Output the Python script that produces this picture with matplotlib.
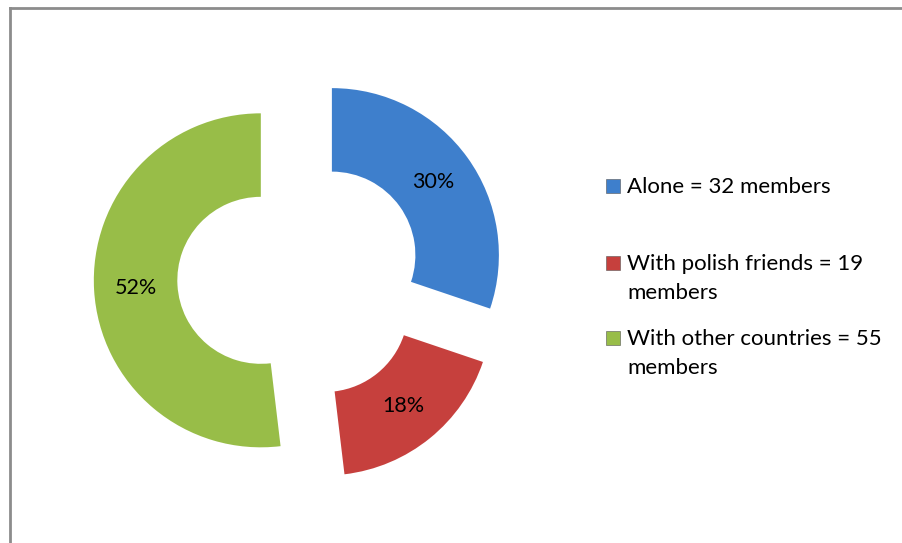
import matplotlib
matplotlib.use("Agg")
import matplotlib.pyplot as plt
from matplotlib.patches import Rectangle
from matplotlib.lines import Line2D

plt.rcParams['font.family'] = ['Lato', 'DejaVu Sans']

# Data
labels = ['Alone = 32 members', 'With polish friends = 19\nmembers', 'With other countries = 55\nmembers']
members = [32, 19, 55]
colors = ['#3e7fcc', '#c6403d', '#98bd48']

W, H = 903, 543
fig = plt.figure(figsize=(W / 100, H / 100), dpi=100)
ax = fig.add_axes([0, 0, 1, 1])

# donut centre and radius in pixels, axes in units of the radius
cx, cy, R = 300, 265, 167

wedges, _, pcts = ax.pie(members, colors=colors, startangle=90, counterclock=False,
                         radius=1.0, explode=[0.235] * 3, autopct='%1.0f%%',
                         pctdistance=0.75, frame=True,
                         wedgeprops=dict(width=0.5, linewidth=0),
                         textprops=dict(fontsize=15.5, color='black'))
ax.set_xlim(-cx / R, (W - cx) / R)
ax.set_ylim(-cy / R, (H - cy) / R)
ax.set_aspect('auto')
ax.axis('off')

# legend: marker square plus one text per line, baselines in pixels from top
leg_base = [193, 270, 345]
line_gap = 29
for lab, col, yb in zip(labels, colors, leg_base):
    fig.patches.append(Rectangle((606 / W, 1 - (yb + 0) / H), 14 / W, 14 / H,
                                 transform=fig.transFigure, facecolor=col,
                                 edgecolor='#555555', linewidth=0.4))
    for i, line in enumerate(lab.split('\n')):
        fig.text(627 / W, 1 - (yb + i * line_gap) / H, line, fontsize=16,
                 va='baseline', ha='left')

# chart area frame (left and top edges)
fig.add_artist(Line2D([10 / W, 10 / W], [0, 1 - 8 / H], transform=fig.transFigure,
                      color='#8c8c8c', linewidth=2))
fig.add_artist(Line2D([10 / W, 1], [1 - 8 / H, 1 - 8 / H], transform=fig.transFigure,
                      color='#8c8c8c', linewidth=2))

fig.savefig('out.png', dpi=100, facecolor='white')
